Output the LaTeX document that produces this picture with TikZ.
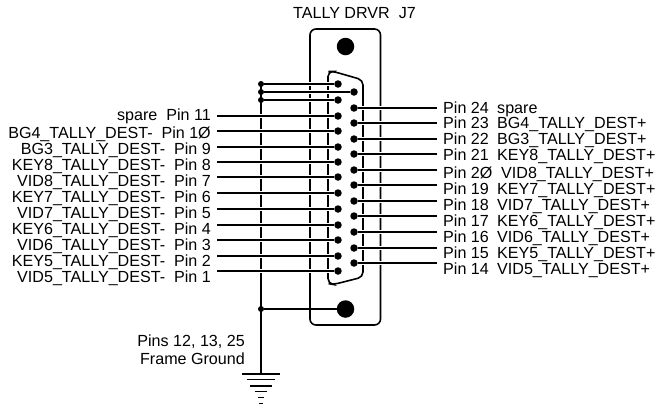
\documentclass[tikz,border=0pt]{standalone}
\usepackage{fontspec}
\setmainfont{Liberation Sans}
\tikzset{
  x=1pt,y=-1pt,
  lbl/.style={inner sep=0pt,font=\fontsize{16.1}{18}\selectfont},
  llbl/.style={lbl,anchor=base east},
  rlbl/.style={lbl,anchor=base west},
  wire/.style={line width=1.8pt,preaction={draw=white,line width=3.8pt}},
  heavy/.style={line width=2.2pt,preaction={draw=white,line width=4.2pt}},
  outline/.style={line width=1.6pt},
  pindot/.style={circle,fill=black,inner sep=0pt,minimum size=7.5pt},
  bigdot/.style={circle,fill=black,inner sep=0pt,minimum size=17.5pt},
  junct/.style={circle,fill=black,inner sep=0pt,minimum size=6pt},
}
\begin{document}
\begin{tikzpicture}
\useasboundingbox (0,0) rectangle (657,408);
% plate and shell
\draw[outline,rounded corners=6pt] (310,325) rectangle (380.5,29);
\draw[outline,rounded corners=5pt] (328,283.5) -- (328,71.5) -- (333.5,71.5) -- (363,80) -- (363,277) -- (333.5,284.5) -- cycle;
% bus
\coordinate (bustop) at (261,84);
\coordinate (gndtop) at (261,374);
\draw[line width=2pt] (bustop) -- (gndtop);
\node[bigdot] (holeT) at (345.5,46.5) {};
\node[bigdot] (holeB) at (345.5,309) {};
\node[junct] (jA) at (261,84) {};
\node[junct] (jB) at (261,92) {};
\node[junct] (jC) at (261,100) {};
\node[junct] (jD) at (261,309) {};
\node[pindot] (pA) at (338,84) {};
\node[pindot] (pB) at (354,92) {};
\node[pindot] (pC) at (338,100) {};
\draw[heavy] (jA) -- (pA);
\draw[heavy] (jB) -- (pB);
\draw[heavy] (jC) -- (pC);
\draw[line width=2pt] (jD) -- (holeB);
% left pins
\foreach \n/\wy/\by/\txt in {
 11/116/120/{spare\ \ Pin 11},
 10/131/138/{BG4\_TALLY\_DEST-\ \ Pin 1Ø},
 9/147/154/{BG3\_TALLY\_DEST-\ \ Pin 9},
 8/162/170/{KEY8\_TALLY\_DEST-\ \ Pin 8},
 7/177/186/{VID8\_TALLY\_DEST-\ \ Pin 7},
 6/193/202/{KEY7\_TALLY\_DEST-\ \ Pin 6},
 5/209/218/{VID7\_TALLY\_DEST-\ \ Pin 5},
 4/225/234/{KEY6\_TALLY\_DEST-\ \ Pin 4},
 3/240/250/{VID6\_TALLY\_DEST-\ \ Pin 3},
 2/256/266/{KEY5\_TALLY\_DEST-\ \ Pin 2},
 1/271/282/{VID5\_TALLY\_DEST-\ \ Pin 1}}{
  \node[pindot] (L\n) at (338,\wy) {};
  \coordinate (Lend\n) at (217,\wy);
  \draw[wire] (Lend\n) -- (L\n);
  \node[llbl] (Lt\n) at (211,\by) {\txt};
}
% right pins
\foreach \n/\wy in {24/108,23/123,22/139,21/154,20/170,19/185,18/201,17/216,16/232,15/248,14/263}{
  \node[pindot] (R\n) at (354,\wy) {};
  \coordinate (Rend\n) at (437,\wy);
  \draw[wire] (R\n) -- (Rend\n);
}
\node[rlbl] (RtA) at (443,113) {Pin 24};
\node[rlbl] (RtA2) at (497,113) {spare};
\node[rlbl] (RtB) at (443,128) {Pin 23};
\node[rlbl] (RtB2) at (497,128) {BG4\_TALLY\_DEST+};
\node[rlbl] (RtC) at (443,144) {Pin 22};
\node[rlbl] (RtC2) at (497,144) {BG3\_TALLY\_DEST+};
\node[rlbl] (RtD) at (443,160) {Pin 21};
\node[rlbl] (RtD2) at (497,160) {KEY8\_TALLY\_DEST+};
\node[rlbl] (RtE) at (443,178) {Pin 2Ø};
\node[rlbl] (RtE2) at (501,178) {VID8\_TALLY\_DEST+};
\node[rlbl] (RtF) at (443,194) {Pin 19};
\node[rlbl] (RtF2) at (497,194) {KEY7\_TALLY\_DEST+};
\node[rlbl] (RtG) at (443,210) {Pin 18};
\node[rlbl] (RtG2) at (497,210) {VID7\_TALLY\_DEST+};
\node[rlbl] (RtH) at (443,226) {Pin 17};
\node[rlbl] (RtH2) at (497,226) {KEY6\_TALLY\_DEST+};
\node[rlbl] (RtI) at (443,242) {Pin 16};
\node[rlbl] (RtI2) at (497,242) {VID6\_TALLY\_DEST+};
\node[rlbl] (RtJ) at (443,258) {Pin 15};
\node[rlbl] (RtJ2) at (497,258) {KEY5\_TALLY\_DEST+};
\node[rlbl] (RtK) at (443,274) {Pin 14};
\node[rlbl] (RtK2) at (497,274) {VID5\_TALLY\_DEST+};
% titles
\node[rlbl] (title) at (293,18) {TALLY DRVR\ \ J7};
\node[llbl] (fg1) at (245,346) {Pins 12, 13, 25};
\node[llbl] (fg2) at (245,364) {Frame Ground};
% ground symbol
\foreach \yy/\hw/\lw in {374.3/19/1.8,379.7/14.3/1.3,385.7/10.7/1.8,391.3/6.3/1.3,397.3/3.3/1.6,403.3/1.7/1.6}{
  \draw[line width=\lw pt] (261-\hw,\yy) -- (261+\hw,\yy);
}
\end{tikzpicture}
\end{document}
